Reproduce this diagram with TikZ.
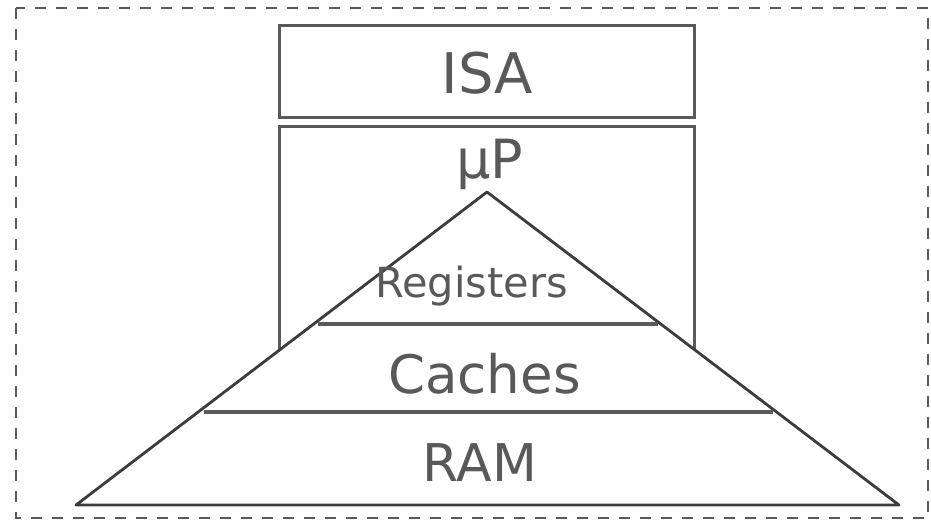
\documentclass[tikz,border=0pt]{standalone}
\usepackage{fontspec}
\setmainfont{DejaVu Sans}
\begin{document}
\begin{tikzpicture}[x=1pt,y=-1pt,
  txt/.style={text=textgray,inner sep=0pt,anchor=base},
  layerbox/.style={draw=boxgray,line width=3pt},
  pyramid/.style={draw=linegray,line width=2.8pt,line join=round},
  tierline/.style={draw=boxgray,line width=3.2pt},
  frame/.style={draw=boxgray,line width=2.6pt,dash pattern=on 11pt off 10pt}]
\definecolor{textgray}{HTML}{595959}
\definecolor{boxgray}{HTML}{5A5A5A}
\definecolor{linegray}{HTML}{3C3C3C}
\useasboundingbox (0,0) rectangle (931,520);
% outer dashed frame
\draw[frame] (16,8) rectangle (928,518);
% ISA and microprocessor boxes
\draw[layerbox] (279,25) rectangle (694,117);
\draw[layerbox] (279,126) rectangle (694,400);
% memory pyramid, filled to hide the lower part of the processor box
\coordinate (apex) at (487,192);
\coordinate (baseL) at (76,505);
\coordinate (baseR) at (899,505);
\filldraw[pyramid,fill=white] (apex) -- (baseL) -- (baseR) -- cycle;
\draw[tierline] (318,324) -- (658,324);
\draw[tierline] (204,412) -- (773,412);
% labels
\node[txt,font=\fontsize{56}{60}\selectfont] (isa) at (487.5,93) {ISA};
\node[txt,font=\fontsize{54}{58}\selectfont] (up) at (490,178) {μP};
\node[txt,font=\fontsize{41.5}{46}\selectfont] (reg) at (471.5,297) {Registers};
\node[txt,font=\fontsize{53}{58}\selectfont] (cache) at (484.5,393) {Caches};
\node[txt,font=\fontsize{52}{58}\selectfont] (ram) at (480,481) {RAM};
\end{tikzpicture}
\end{document}
